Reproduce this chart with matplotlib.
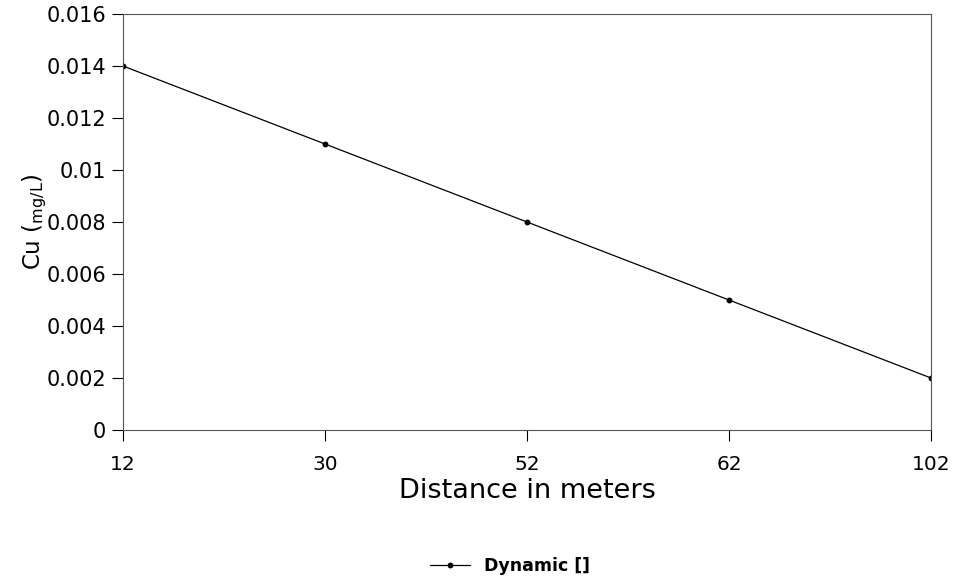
import matplotlib
matplotlib.use("Agg")
import matplotlib.pyplot as plt
import numpy as np

distances = ["12", "30", "52", "62", "102"]
cu_dynamic = [0.014, 0.011, 0.008, 0.005, 0.002]
y_ticks = [0, 0.002, 0.004, 0.006, 0.008, 0.01, 0.012, 0.014, 0.016]
y_tick_labels = ["0", "0.002", "0.004", "0.006", "0.008", "0.01", "0.012", "0.014", "0.016"]

plt.rcParams['font.family'] = ['DejaVu Sans']
plt.rcParams['mathtext.fontset'] = 'custom'
plt.rcParams['mathtext.rm'] = 'DejaVu Sans'
plt.rcParams['mathtext.it'] = 'DejaVu Sans'

fig = plt.figure(figsize=(9.59, 5.79), dpi=100)
ax = fig.add_axes([123 / 959, 1 - 430 / 579, (931 - 123) / 959, (430 - 14) / 579])

x = np.arange(len(distances))
line, = ax.plot(x, cu_dynamic, color='black', lw=0.9, marker='o', markersize=3.2,
                label='Dynamic []')

ax.set_xlim(0, len(distances) - 1)
ax.set_ylim(0, 0.016)
ax.set_xticks(x)
ax.set_xticklabels(distances)
ax.set_yticks(y_ticks)
ax.set_yticklabels(y_tick_labels)

for s in ax.spines.values():
    s.set_linewidth(0.8)
    s.set_color('#555555')

ax.tick_params(axis='y', direction='out', length=8, width=0.8, labelsize=15, pad=4)
ax.tick_params(axis='x', direction='out', length=8, width=0.8, labelsize=14.5, pad=10)

ax.set_xlabel('Distance in meters', fontsize=19.5, labelpad=3)
ax.set_ylabel('Cu ($_{\\mathrm{mg/L}}$)', fontsize=16.5, labelpad=-2)

fig.legend(handles=[line], loc='center', bbox_to_anchor=(510 / 959, 1 - 566 / 579),
           frameon=False, prop={'size': 12.5, 'weight': 'bold'}, handlelength=2.3,
           handletextpad=0.85)

fig.savefig('out.png', dpi=100)
